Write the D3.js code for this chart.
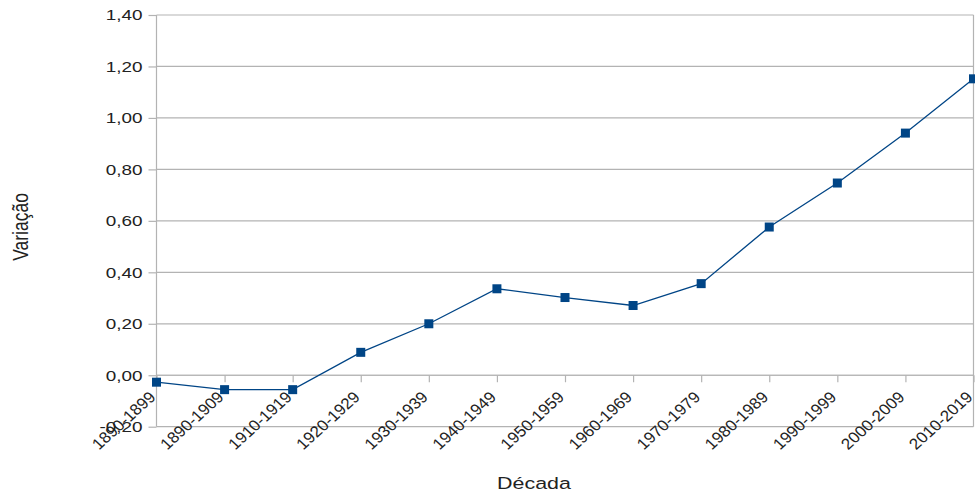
<!DOCTYPE html>
<html><head><meta charset="utf-8">
<script src="https://cdn.jsdelivr.net/npm/d3@7"></script>
<style>body{margin:0;background:#fff}svg text{font-family:"Liberation Sans",Arial,sans-serif;fill:#222}</style>
</head><body><svg id="c" width="975" height="496"></svg>
<script>
const categories = ["1890-1899","1890-1909","1910-1919","1920-1929","1930-1939","1940-1949","1950-1959","1960-1969","1970-1979","1980-1989","1990-1999","2000-2009","2010-2019"];
const values = [-0.027,-0.056,-0.056,0.089,0.200,0.336,0.302,0.271,0.356,0.576,0.747,0.941,1.152];
const yTicks = [-0.2,0,0.2,0.4,0.6,0.8,1.0,1.2,1.4];
const xTitle = "Década", yTitle = "Variação";

const SX = 1.26;
const svg = d3.select("#c");
const L = 156.5, R = 973.5, T = 15, B = 426.7;
const x = d3.scalePoint().domain(categories).range([L, R]);
const y = d3.scaleLinear().domain([-0.2, 1.4]).range([B, T]);
const fmt = v => d3.format(".2f")(v).replace(".", ",").replace("−","-");

// gridlines
svg.append("g").selectAll("line").data(yTicks).join("line")
  .attr("x1", L).attr("x2", R).attr("y1", d => y(d)).attr("y2", d => y(d))
  .attr("stroke", "#b3b3b3").attr("stroke-width", 1.2);
// right border
svg.append("line").attr("x1", R).attr("x2", R).attr("y1", T).attr("y2", B).attr("stroke", "#b3b3b3").attr("stroke-width", 1.2);

// y axis
const ya = svg.append("g").attr("transform", `translate(${L},0)`)
  .call(d3.axisLeft(y).tickValues(yTicks).tickSize(8).tickFormat(""));
ya.selectAll("line,path").attr("stroke", "#b3b3b3").attr("stroke-width", 1.2);
ya.select(".domain").attr("d", `M0,${T}V${B}`);
svg.append("g").selectAll("text").data(yTicks).join("text")
  .attr("transform", d => `translate(142.5,${y(d)}) scale(${SX},1)`)
  .attr("text-anchor", "end").attr("dy", "0.36em").attr("font-size", 15).text(d => fmt(d));

// x axis at 0
const xa = svg.append("g").attr("transform", `translate(0,${y(0)})`)
  .call(d3.axisBottom(x).tickSize(7).tickFormat(""));
xa.selectAll("line,path").attr("stroke", "#b3b3b3").attr("stroke-width", 1.2);
xa.select(".domain").attr("d", `M${L},0H${R}`);
svg.append("g").selectAll("text").data(categories).join("text")
  .attr("transform", d => `translate(${x(d) - 4},${y(0) + 19}) scale(1.1,1) rotate(-45)`)
  .attr("text-anchor", "end").attr("dy", "0.35em").attr("font-size", 15.5).text(d => d);

// line
const line = d3.line().x((d, i) => x(categories[i])).y(d => y(d));
svg.append("path").datum(values).attr("d", line).attr("fill", "none")
  .attr("stroke", "#004586").attr("stroke-width", 1.3);
svg.append("g").selectAll("rect").data(values).join("rect")
  .attr("x", (d, i) => x(categories[i]) - 4.5).attr("y", d => y(d) - 4.5)
  .attr("width", 9).attr("height", 9).attr("fill", "#004586");

// titles
svg.append("text").attr("transform", `translate(534,489) scale(${SX},1)`)
  .attr("text-anchor", "middle").attr("font-size", 17).text(xTitle);
svg.append("text").attr("transform", `translate(28,227) scale(${SX},1) rotate(-90)`)
  .attr("text-anchor", "middle").attr("font-size", 17.5).text(yTitle);
</script></body></html>
